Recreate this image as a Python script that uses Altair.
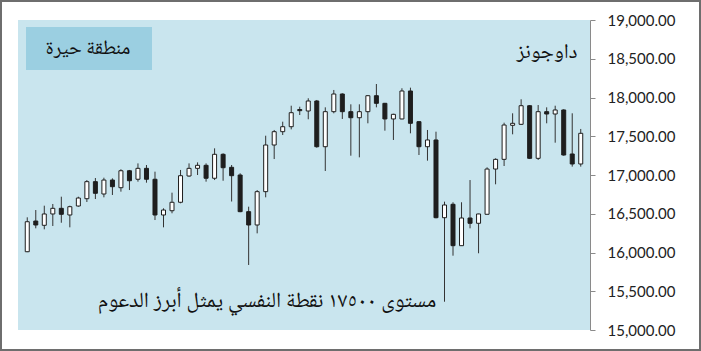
import altair as alt
import pandas as pd

# Daily candles (Dow Jones)
opens = [16010, 16406, 16351, 16497, 16570, 16484, 16600, 16694, 16914, 16755,
         16935, 16836, 17055, 16945, 17086, 16945, 16484, 16539, 16648, 16987,
         17086, 17125, 16958, 17267, 17099, 17000, 16527, 16355, 16785, 17387,
         17559, 17623, 17845, 17826, 17955, 17365, 17817, 18045, 17817, 17739,
         17817, 18023, 17925, 17723, 17723, 18084, 17688, 17365, 17452, 16449,
         16622, 16088, 16445, 16377, 16493, 17077, 17202, 17641, 17654, 17894,
         17215, 17817, 17787, 17839, 17271, 17142]
highs = [16454, 16548, 16604, 16626, 16720, 16604, 16720, 16935, 16961, 16965,
         16957, 17074, 17065, 17150, 17129, 17043, 16570, 16772, 17065, 17150,
         17163, 17150, 17344, 17280, 17129, 17022, 16591, 16806, 17507, 17581,
         17688, 17894, 17881, 17990, 17968, 17873, 18097, 18054, 17912, 17912,
         18032, 18174, 17930, 17790, 18119, 18127, 17694, 17581, 17559, 16656,
         16648, 16648, 16935, 16500, 17099, 17215, 17675, 17796, 17977, 17903,
         17903, 17873, 17894, 17848, 17796, 17594]
lows = [16005, 16312, 16299, 16342, 16384, 16325, 16591, 16652, 16690, 16712,
        16742, 16785, 16806, 16914, 16901, 16419, 16325, 16506, 16635, 16978,
        17000, 16914, 16935, 16926, 16658, 16520, 15839, 16247, 16712, 17206,
        17516, 17589, 17774, 17719, 17352, 17052, 17796, 17723, 17249, 17228,
        17667, 17873, 17572, 17452, 17719, 17538, 17258, 17185, 16441, 15365,
        15959, 16088, 16312, 15990, 16493, 16880, 17116, 17525, 17645, 17206,
        17194, 17667, 17417, 17249, 17108, 17108]
closes = [16397, 16355, 16497, 16570, 16493, 16591, 16703, 16914, 16764, 16935,
          16849, 17055, 16926, 17086, 16945, 16484, 16548, 16648, 16991, 17086,
          17125, 16958, 17267, 17094, 16991, 16527, 16355, 16785, 17387, 17559,
          17623, 17804, 17830, 17955, 17365, 17817, 18045, 17817, 17739, 17817,
          18023, 17925, 17723, 17783, 18084, 17667, 17365, 17452, 16449, 16613,
          16088, 16445, 16377, 16497, 17077, 17202, 17645, 17667, 17894, 17215,
          17817, 17787, 17839, 17258, 17142, 17538]

y_ticks = [15000, 15500, 16000, 16500, 17000, 17500, 18000, 18500, 19000]

title_text = "داوجونز"
box_text = "منطقة حيرة"
note_text = "مستوى ١٧٥٠٠ نقطة النفسي يمثل أبرز الدعوم"

df = pd.DataFrame({
    "idx": list(range(len(opens))),
    "open": opens, "high": highs, "low": lows, "close": closes,
})

W, H = 572, 310
ARABIC_FONT = "Noto Naskh Arabic, Noto Sans Arabic, DejaVu Sans"

xscale = alt.Scale(domain=[-0.5, len(opens) - 0.5], nice=False, zero=False)
yaxis = alt.Axis(orient="right", values=y_ticks, format=",.2f", grid=False,
                 labelFont="Lato", labelFontSize=15, labelColor="#222222",
                 domainColor="#8a8a8a", tickColor="#8a8a8a", tickSize=5,
                 labelPadding=12)
yscale = alt.Scale(domain=[15000, 19000], nice=False, zero=False)

base = alt.Chart(df)

wicks = base.mark_rule(color="#333333", strokeWidth=1).encode(
    x=alt.X("idx:Q", scale=xscale, axis=None),
    y=alt.Y("low:Q", scale=yscale, axis=yaxis, title=""),
    y2="high:Q",
)

bodies = base.mark_bar(size=4, stroke="#1e1e1e", strokeWidth=1).encode(
    x=alt.X("idx:Q", scale=xscale, axis=None),
    y=alt.Y("open:Q", scale=yscale, axis=yaxis, title=""),
    y2="close:Q",
    fill=alt.condition(alt.datum.close >= alt.datum.open,
                       alt.value("white"), alt.value("#1e1e1e")),
)

one = alt.Data(values=[{"k": 1}])

frame = alt.Chart(one).mark_rect(fill="transparent", stroke="#6e6e6e",
                                 strokeWidth=2).encode(
    x=alt.value(-17), x2=alt.value(682), y=alt.value(-19), y2=alt.value(330))

box = alt.Chart(one).mark_rect(fill="#9bcfe1").encode(
    x=alt.value(8), x2=alt.value(134), y=alt.value(7), y2=alt.value(50))

box_label = alt.Chart(one).mark_text(text=box_text, font=ARABIC_FONT,
                                     fontSize=20, color="#111111",
                                     align="center", baseline="middle").encode(
    x=alt.value(70), y=alt.value(28))

title_label = alt.Chart(one).mark_text(text=title_text, font=ARABIC_FONT,
                                       fontSize=21, color="#111111",
                                       align="center", baseline="middle").encode(
    x=alt.value(529), y=alt.value(32))

note_label = alt.Chart(one).mark_text(text=note_text, font=ARABIC_FONT,
                                      fontSize=21.5, color="#111111",
                                      align="center", baseline="middle").encode(
    x=alt.value(249), y=alt.value(281))

chart = alt.layer(frame, box, box_label, title_label, note_label, wicks, bodies).properties(
    width=W, height=H,
    autosize=alt.AutoSizeParams(type="none"),
    padding={"left": 18, "top": 20, "right": 111, "bottom": 21},
    background="white",
).configure_view(fill="#c9e5ee", strokeWidth=0)

chart.save("out.html", embed_options={"renderer": "svg", "actions": False})
